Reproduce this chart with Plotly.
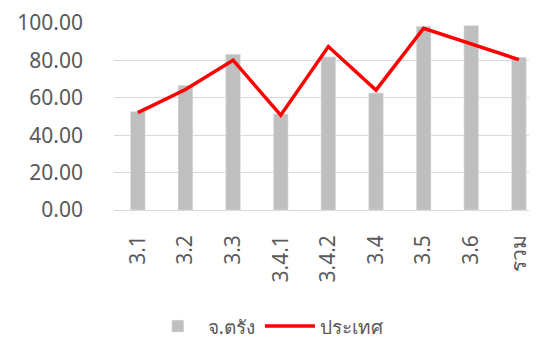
import plotly.graph_objs as go

# categories and values
cats = ['3.1', '3.2', '3.3', '3.4.1', '3.4.2', '3.4', '3.5', '3.6', 'รวม']
trang = [52.7, 66.7, 83.3, 51.4, 81.9, 62.6, 98.2, 98.6, 81.7]
country = [52.1, 64.4, 80.1, 50.7, 87.4, 64.1, 97.2, 89.0, 80.4]

fig = go.Figure()
fig.add_trace(go.Bar(x=cats, y=trang, name='จ.ตรัง', marker_color='#bfbfbf'))
fig.add_trace(go.Scatter(x=cats, y=country, mode='lines', name='ประเทศ',
                         line=dict(color='#ff0000', width=3.5)))

# page body has an 8px margin, so the figure is sized/offset for it
fig.update_layout(
    width=529, height=334,
    margin=dict(l=106, r=0, t=15, b=132, autoexpand=False),
    paper_bgcolor='white', plot_bgcolor='white',
    font=dict(family='Noto Sans, Lato', size=21, color='#595959'),
    bargap=0.69,
    showlegend=True,
    legend=dict(orientation='h', x=0.08, xanchor='left', y=-0.52, yanchor='top',
                font=dict(size=19), itemwidth=50),
)
fig.update_yaxes(range=[0, 100], dtick=20, tickformat='.2f', automargin=False,
                 gridcolor='#d9d9d9', gridwidth=1.2,
                 zeroline=True, zerolinecolor='#d9d9d9', zerolinewidth=1.2,
                 ticklabelstandoff=30, showline=False)
fig.update_xaxes(range=[-0.5, 8.38], tickangle=-90, showline=False, automargin=False,
                 ticklabelstandoff=20)

fig.write_html("out.html")
